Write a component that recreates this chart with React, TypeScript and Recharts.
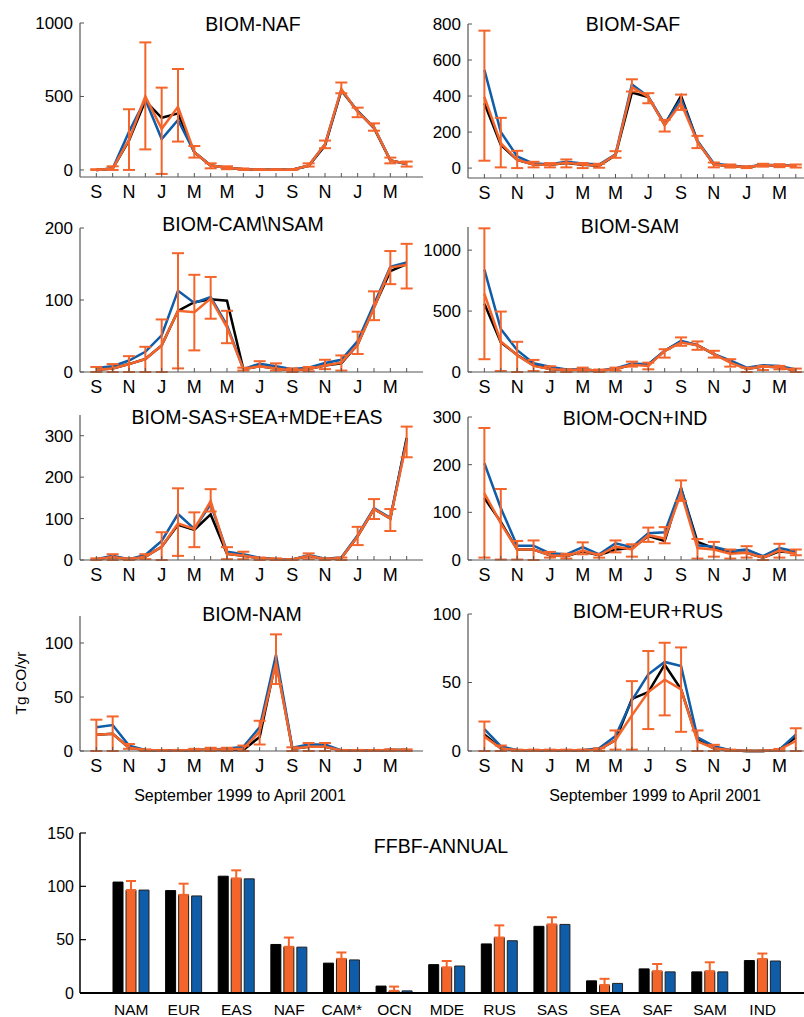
import React from "react";
import { LineChart, Line, XAxis, YAxis, ErrorBar, BarChart, Bar } from "recharts";

const FONT = '"Liberation Sans", Arial, Helvetica, sans-serif';
const AXIS = "#555";
const BLACK = "#000000";
const BLUE = "#0f5ca8";
const ORANGE = "#f4652b";

// Sep 1999 .. Apr 2001
const monthLetters = ["S", "O", "N", "D", "J", "F", "M", "A", "M", "J", "J", "A", "S", "O", "N", "D", "J", "F", "M", "A"];
const monthIdx = monthLetters.map((_, i) => i);

// BIOM-NAF
const nafBlack = [0, 10, 200, 470, 355, 385, 120, 30, 15, 5, 2, 2, 2, 28, 165, 540, 400, 285, 65, 40];
const nafBlue = [0, 10, 260, 480, 210, 340, 120, 30, 15, 5, 2, 2, 2, 30, 175, 545, 400, 290, 65, 40];
const nafOrange = [0, 10, 205, 500, 280, 430, 120, 30, 15, 5, 2, 2, 2, 30, 175, 550, 395, 290, 65, 42];
const nafLow = [0, 0, 0, 140, -27, 193, 84, 11, 5, 0, 0, 0, 0, 23, 148, 522, 359, 267, 45, 23];
const nafHigh = [5, 25, 413, 868, 560, 687, 163, 45, 25, 10, 5, 5, 5, 45, 200, 595, 424, 317, 84, 57];

// BIOM-SAF
const safBlack = [360, 130, 45, 20, 18, 28, 18, 13, 72, 420, 395, 240, 400, 148, 20, 12, 5, 17, 14, 12];
const safBlue = [545, 200, 65, 25, 22, 35, 25, 20, 76, 465, 397, 245, 385, 150, 25, 14, 6, 19, 16, 13];
const safOrange = [395, 138, 46, 20, 18, 30, 20, 15, 74, 449, 395, 238, 360, 145, 20, 12, 5, 17, 14, 11];
const safLow = [41, 4, 0, 4, 4, 4, 0, 2, 57, 425, 360, 203, 323, 111, 4, 3, 0, 8, 5, 3];
const safHigh = [763, 279, 96, 35, 28, 48, 28, 24, 94, 493, 416, 268, 408, 179, 31, 20, 10, 24, 22, 20];

// BIOM-CAM\NSAM
const camBlack = [3, 5, 11, 18, 37, 85, 97, 101, 99, 4, 8, 5, 2, 4, 9, 12, 38, 90, 140, 150];
const camBlue = [5.5, 8, 16, 28, 51, 113, 96, 104, 65, 4, 11.5, 8, 4, 6, 12.5, 17, 43, 94, 146, 152];
const camOrange = [3, 5, 11, 18, 37, 85, 83, 102, 62, 4, 8, 5, 2, 4, 9, 13, 38, 89, 145, 149];
const camLow = [0, 0, 0, 0, 0, 5, 30, 74, 40, 2, 7, 2, 0, 1, 4, 2, 25, 72, 122, 116];
const camHigh = [7, 11, 22, 35, 73, 165, 135, 132, 85, 6, 15, 12, 5, 7, 17, 23, 56, 112, 168, 178];

// BIOM-SAM
const samBlack = [560, 245, 140, 55, 25, 15, 20, 10, 25, 60, 60, 174, 250, 220, 146, 85, 25, 45, 40, 10];
const samBlue = [840, 353, 179, 72, 44, 20, 20, 10, 30, 69, 63, 174, 256, 220, 146, 95, 35, 55, 50, 20];
const samOrange = [642, 251, 138, 50, 25, 15, 20, 10, 25, 60, 50, 174, 242, 220, 146, 77, 25, 45, 40, 10];
const samLow = [105, 8, 0, 8, 0, 0, 5, 0, 11, 44, 22, 118, 215, 182, 118, 44, 0, 16, 22, 0];
const samHigh = [1179, 496, 248, 99, 47, 22, 36, 20, 36, 85, 77, 187, 284, 251, 174, 105, 36, 50, 50, 28];

// BIOM-SAS+SEA+MDE+EAS
const sasBlack = [2, 7, 2, 8, 32, 85, 73, 110, 15, 10, 4, 2, 1, 10, 2, 5, 57, 123, 100, 295];
const sasBlue = [2, 10, 2, 12, 46, 111, 75, 135, 20, 14, 5, 2, 1, 12, 3, 6, 60, 125, 102, 290];
const sasOrange = [2, 7, 2, 8, 32, 88, 75, 142, 15, 10, 4, 2, 1, 10, 2, 5, 57, 123, 100, 285];
const sasLow = [0, 0, 0, 2, 0, 10, 31, 117, 2, 2, 0, 0, 0, 2, 0, 0, 36, 99, 70, 248];
const sasHigh = [4, 14, 4, 14, 67, 173, 115, 171, 31, 20, 6, 4, 2, 16, 4, 6, 80, 147, 123, 322];

// BIOM-OCN+IND
const ocnBlack = [130, 80, 22, 22, 10, 8, 18, 10, 22, 25, 50, 40, 150, 38, 25, 15, 15, 5, 18, 15];
const ocnBlue = [203, 109, 30, 30, 14, 12, 27, 12, 35, 27, 56, 58, 151, 31, 28, 19, 22, 8, 25, 18];
const ocnOrange = [140, 77, 22, 22, 10, 8, 20, 10, 28, 22, 52, 45, 141, 25, 22, 13, 15, 5, 20, 13];
const ocnLow = [5, 1, 1, 0, 5, 3, 12, 5, 16, 7, 38, 35, 124, 3, 7, 3, 5, 0, 5, 10];
const ocnHigh = [277, 149, 40, 41, 17, 13, 37, 13, 41, 33, 68, 69, 167, 44, 38, 22, 29, 8, 34, 22];

// BIOM-NAM
const namBlack = [15, 16, 3, 1, 0.5, 0.5, 1, 1, 1, 1, 13, 84, 2, 4, 4, 0.5, 0.5, 0.5, 1, 1];
const namBlue = [22, 24, 5, 1, 0.5, 0.5, 1, 1.5, 2, 4, 22, 89, 3, 6, 6, 0.5, 0.5, 0.5, 1, 1];
const namOrange = [15, 16, 3, 1, 0.5, 0.5, 1, 1.5, 1.5, 2, 18, 82, 2, 4, 4, 0.5, 0.5, 0.5, 1, 1];
const namLow = [0, 0, 2, 0, 0, 0, 0, 0, 0, 0, 6, 62, 0, 0, 0, 0, 0, 0, 0, 0];
const namHigh = [29, 32, 6.5, 1.5, 1, 1, 2, 3, 3, 5, 28, 108, 3.4, 7.4, 7.4, 1, 1, 1, 1.5, 1.5];

// BIOM-EUR+RUS
const eurBlack = [12, 2, 0.5, 0.5, 0.5, 0.5, 0.5, 1, 8, 38, 43, 63, 45, 8, 2, 0.5, 0, 0, 1, 10];
const eurBlue = [16, 3.5, 0.5, 0.5, 0.5, 0.5, 0.5, 2, 11, 37, 56, 65, 62, 10, 3.5, 0.5, 0, 0, 1, 12];
const eurOrange = [10.5, 2, 0.5, 0.5, 0.5, 0.5, 0.5, 1, 8, 26, 43, 52, 45, 7, 2, 0.5, 0, 0, 1, 7.3];
const eurLow = [0, 0, 0, 0, 0, 0, 0, 0, 1, 1, 16, 26, 14, 0, 0, 0, 0, 0, 0, 0];
const eurHigh = [21.5, 4, 1, 1, 1, 1, 1, 2, 15, 51, 73, 79, 75.6, 15, 4.5, 1, 0.5, 0.5, 1.5, 16.6];

// FFBF-ANNUAL
const regions = ["NAM", "EUR", "EAS", "NAF", "CAM*", "OCN", "MDE", "RUS", "SAS", "SEA", "SAF", "SAM", "IND"];
const annualBlack = [104, 96, 109.5, 45.5, 28, 6.5, 26.6, 46, 62.5, 11.4, 22.6, 19.8, 30.4];
const annualOrange = [96.5, 92, 107.4, 43.3, 32, 2, 24, 52, 64.3, 7.4, 20.4, 20.4, 31.8];
const annualBlue = [96.5, 91, 107, 43, 31, 2, 25.3, 49, 64.3, 9, 19.8, 19.8, 30];
const annualOrangeHigh = [105, 102.5, 115, 52, 38, 6, 30, 63.4, 71, 13.3, 27.2, 28.8, 37];

function makeRows(black: number[], blue: number[], orange: number[], low: number[], high: number[]) {
  return black.map((b, i) => ({
    i,
    black: b,
    blue: blue[i],
    orange: orange[i],
    err: [Math.max(0, orange[i] - low[i]), Math.max(0, high[i] - orange[i])],
  }));
}

const barRows = regions.map((cat, i) => ({
  cat,
  black: annualBlack[i],
  orange: annualOrange[i],
  blue: annualBlue[i],
  oErr: [0, Math.max(0, annualOrangeHigh[i] - annualOrange[i])],
}));

const XTick = (props: any) => {
  const { x, y, payload } = props;
  const idx = payload.value;
  return (
    <g>
      <line x1={x} x2={x} y1={y} y2={y - 4} stroke={AXIS} strokeWidth={1} />
      {idx % 2 === 0 && (
        <text x={x} y={y + 21} textAnchor="middle" fontSize={18} fill="#000">
          {monthLetters[idx]}
        </text>
      )}
    </g>
  );
};

const YTick = (props: any) => {
  const { x, y, payload } = props;
  return (
    <g>
      <line x1={x} x2={x + 4} y1={y} y2={y} stroke={AXIS} strokeWidth={1} />
      <text x={x - 7} y={y} dy="0.35em" textAnchor="end" fontSize={17} fill="#000">
        {payload.value}
      </text>
    </g>
  );
};

const BarXTick = (props: any) => {
  const { x, y, payload } = props;
  return (
    <text x={x} y={y + 22} textAnchor="middle" fontSize={15.5} fill="#000">
      {payload.value}
    </text>
  );
};

const BarYTick = (props: any) => {
  const { x, y, payload } = props;
  return (
    <g>
      <line x1={x} x2={x + 6} y1={y} y2={y} stroke="#000" strokeWidth={1.2} />
      <text x={x - 6} y={y} dy="0.35em" textAnchor="end" fontSize={16} fill="#000">
        {payload.value}
      </text>
    </g>
  );
};

interface PanelProps {
  title: string;
  titleX: number;
  titleY: number;
  left: number;
  axisX: number;
  right: number;
  top: number;
  bottom: number;
  xMax: number;
  yDomain: [number, number];
  yTicks: number[];
  data: any[];
}

function Panel(p: PanelProps) {
  const chartTop = p.top - 12;
  return (
    <>
      <div style={{ position: "absolute", left: p.left, top: chartTop }}>
        <LineChart
          width={p.right - p.left}
          height={p.bottom - chartTop + 30}
          data={p.data}
          margin={{ top: 12, right: 0, bottom: 0, left: 0 }}
        >
          <XAxis
            type="number"
            dataKey="i"
            domain={[-1, p.xMax]}
            ticks={monthIdx}
            interval={0}
            tickSize={0}
            tickMargin={0}
            height={30}
            tickLine={false}
            axisLine={{ stroke: AXIS, strokeWidth: 1.2 }}
            tick={XTick}
          />
          <YAxis
            type="number"
            domain={p.yDomain}
            ticks={p.yTicks}
            interval={0}
            width={p.axisX - p.left}
            tickSize={0}
            tickMargin={0}
            tickLine={false}
            axisLine={{ stroke: AXIS, strokeWidth: 1.2 }}
            tick={YTick}
          />
          <Line type="linear" dataKey="black" stroke={BLACK} strokeWidth={2.5} dot={false} isAnimationActive={false} />
          <Line type="linear" dataKey="blue" stroke={BLUE} strokeWidth={2.5} dot={false} isAnimationActive={false} />
          <Line type="linear" dataKey="orange" stroke={ORANGE} strokeWidth={2.5} dot={false} isAnimationActive={false}>
            <ErrorBar dataKey="err" direction="y" width={6} stroke={ORANGE} strokeWidth={2} isAnimationActive={false} />
          </Line>
        </LineChart>
      </div>
      <div
        style={{
          position: "absolute",
          left: p.titleX,
          top: p.titleY,
          transform: "translate(-50%, -50%)",
          fontSize: 19.5,
          lineHeight: 1,
          whiteSpace: "nowrap",
        }}
      >
        {p.title}
      </div>
    </>
  );
}

export default function App() {
  const label = (text: string, x: number, y: number, size: number, rotate = false) => (
    <div
      style={{
        position: "absolute",
        left: x,
        top: y,
        transform: `translate(-50%, -50%)${rotate ? " rotate(-90deg)" : ""}`,
        fontSize: size,
        lineHeight: 1,
        whiteSpace: "nowrap",
      }}
    >
      {text}
    </div>
  );

  return (
    <div
      style={{
        position: "absolute",
        left: 0,
        top: 0,
        width: 804,
        height: 1017,
        overflow: "hidden",
        background: "#fff",
        fontFamily: FONT,
        color: "#000",
      }}
    >
      <Panel title="BIOM-NAF" titleX={253} titleY={25} left={0} axisX={80} right={423} top={23} bottom={177}
        xMax={20} yDomain={[-48, 1000]} yTicks={[0, 500, 1000]}
        data={makeRows(nafBlack, nafBlue, nafOrange, nafLow, nafHigh)} />
      <Panel title="BIOM-SAF" titleX={633} titleY={25} left={400} axisX={468} right={804} top={24} bottom={178}
        xMax={19.5} yDomain={[-55, 800]} yTicks={[0, 200, 400, 600, 800]}
        data={makeRows(safBlack, safBlue, safOrange, safLow, safHigh)} />
      <Panel title="BIOM-CAM\NSAM" titleX={243} titleY={225} left={0} axisX={80} right={423} top={228} bottom={372}
        xMax={20} yDomain={[0, 200]} yTicks={[0, 100, 200]}
        data={makeRows(camBlack, camBlue, camOrange, camLow, camHigh)} />
      <Panel title="BIOM-SAM" titleX={630} titleY={227} left={400} axisX={468} right={804} top={227} bottom={372}
        xMax={19.5} yDomain={[0, 1190]} yTicks={[0, 500, 1000]}
        data={makeRows(samBlack, samBlue, samOrange, samLow, samHigh)} />
      <Panel title="BIOM-SAS+SEA+MDE+EAS" titleX={257} titleY={418} left={0} axisX={80} right={423} top={415} bottom={560}
        xMax={20} yDomain={[0, 350]} yTicks={[0, 100, 200, 300]}
        data={makeRows(sasBlack, sasBlue, sasOrange, sasLow, sasHigh)} />
      <Panel title="BIOM-OCN+IND" titleX={635} titleY={419} left={400} axisX={468} right={804} top={417} bottom={560}
        xMax={19.5} yDomain={[0, 300]} yTicks={[0, 100, 200, 300]}
        data={makeRows(ocnBlack, ocnBlue, ocnOrange, ocnLow, ocnHigh)} />
      <Panel title="BIOM-NAM" titleX={252} titleY={615} left={0} axisX={80} right={423} top={616} bottom={751}
        xMax={20} yDomain={[0, 125]} yTicks={[0, 50, 100]}
        data={makeRows(namBlack, namBlue, namOrange, namLow, namHigh)} />
      <Panel title="BIOM-EUR+RUS" titleX={648} titleY={612} left={400} axisX={468} right={804} top={614} bottom={751}
        xMax={19.5} yDomain={[0, 100]} yTicks={[0, 50, 100]}
        data={makeRows(eurBlack, eurBlue, eurOrange, eurLow, eurHigh)} />

      {label("Tg CO/yr", 21, 683, 15.5, true)}
      {label("September 1999 to April 2001", 240, 796, 16)}
      {label("September 1999 to April 2001", 655, 796, 16)}

      <div style={{ position: "absolute", left: 0, top: 823 }}>
        <BarChart
          width={804}
          height={194}
          data={barRows}
          margin={{ top: 10, right: 0, bottom: 0, left: 0 }}
          barSize={10}
          barGap={3}
        >
          <XAxis
            dataKey="cat"
            padding={{ left: 25, right: 15 }}
            interval={0}
            tickSize={0}
            tickMargin={0}
            height={24}
            tickLine={false}
            axisLine={{ stroke: "#000", strokeWidth: 2 }}
            tick={BarXTick}
          />
          <YAxis
            type="number"
            domain={[0, 150]}
            ticks={[0, 50, 100, 150]}
            interval={0}
            width={80}
            tickSize={0}
            tickMargin={0}
            tickLine={false}
            axisLine={{ stroke: "#000", strokeWidth: 1.5 }}
            tick={BarYTick}
          />
          <Bar dataKey="black" fill={BLACK} stroke="#000" strokeWidth={1} isAnimationActive={false} />
          <Bar dataKey="orange" fill={ORANGE} stroke="#222" strokeWidth={1} isAnimationActive={false}>
            <ErrorBar dataKey="oErr" direction="y" width={5} stroke={ORANGE} strokeWidth={2} isAnimationActive={false} />
          </Bar>
          <Bar dataKey="blue" fill={BLUE} stroke="#222" strokeWidth={1} isAnimationActive={false} />
        </BarChart>
      </div>
      {label("FFBF-ANNUAL", 441, 847, 19.5)}
    </div>
  );
}
